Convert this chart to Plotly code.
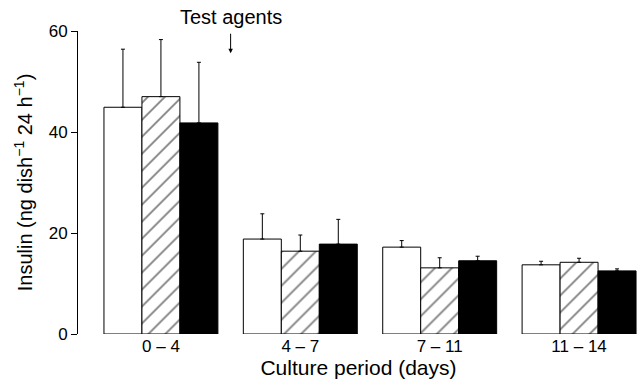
import plotly.graph_objects as go

# Culture periods (days) and insulin release per dish, mean with upper SEM
periods = ["0 – 4", "4 – 7", "7 – 11", "11 – 14"]
control = [44.9, 18.8, 17.2, 13.7]
control_err = [11.5, 5.0, 1.3, 0.7]
hatched = [47.0, 16.4, 13.1, 14.2]
hatched_err = [11.3, 3.2, 2.0, 0.8]
solid = [41.8, 17.8, 14.5, 12.5]
solid_err = [12.0, 4.9, 0.9, 0.4]

FONT = "Liberation Sans, Arial, Helvetica, sans-serif"
INK = "#000000"

x = list(range(len(periods)))


def err(vals):
    return dict(type="data", array=vals, arrayminus=[0] * len(vals),
                symmetric=False, color=INK, thickness=1, width=2)


fig = go.Figure()
fig.add_trace(go.Bar(x=x, y=control, error_y=err(control_err),
                     marker=dict(color="white", line=dict(color=INK, width=1))))
fig.add_trace(go.Bar(x=x, y=hatched, error_y=err(hatched_err),
                     marker=dict(color="white", line=dict(color=INK, width=1),
                                 pattern=dict(shape="/", fgcolor=INK, bgcolor="white",
                                              size=12, solidity=0.15))))
fig.add_trace(go.Bar(x=x, y=solid, error_y=err(solid_err),
                     marker=dict(color=INK, line=dict(color=INK, width=1))))

# Label and arrow marking when the test agents were added
fig.add_annotation(x=0.5, y=1.046, xref="x", yref="paper", yanchor="middle",
                   text="Test agents", showarrow=False,
                   font=dict(size=20, color=INK, family=FONT))
fig.add_annotation(x=0.5, y=55.6, xref="x", yref="y", text="",
                   showarrow=True, ax=0, ay=-21, arrowhead=2, arrowsize=0.9,
                   arrowwidth=1, arrowcolor=INK)

fig.update_layout(
    width=639, height=381,
    margin=dict(l=78, r=0, t=31, b=47),
    paper_bgcolor="white", plot_bgcolor="white",
    barmode="group", bargap=0.1825, bargroupgap=0,
    showlegend=False,
    font=dict(family=FONT, color=INK),
    xaxis=dict(range=[-0.595, 3.43], tickvals=x, ticktext=periods,
               showline=False, showgrid=False, zeroline=False, ticks="",
               tickfont=dict(size=17, color=INK),
               title=dict(text="Culture period (days)", standoff=0,
                          font=dict(size=21, color=INK))),
    yaxis=dict(range=[0, 60], tickvals=[0, 20, 40, 60],
               showline=True, linecolor=INK, linewidth=1,
               ticks="outside", ticklen=6, tickcolor=INK, tickwidth=1,
               showgrid=False, zeroline=False,
               tickfont=dict(size=17, color=INK),
               title=dict(text="Insulin (ng dish<sup>−1</sup> 24 h<sup>−1</sup>)",
                          standoff=10, font=dict(size=20, color=INK))),
)

fig.write_html("out.html")
